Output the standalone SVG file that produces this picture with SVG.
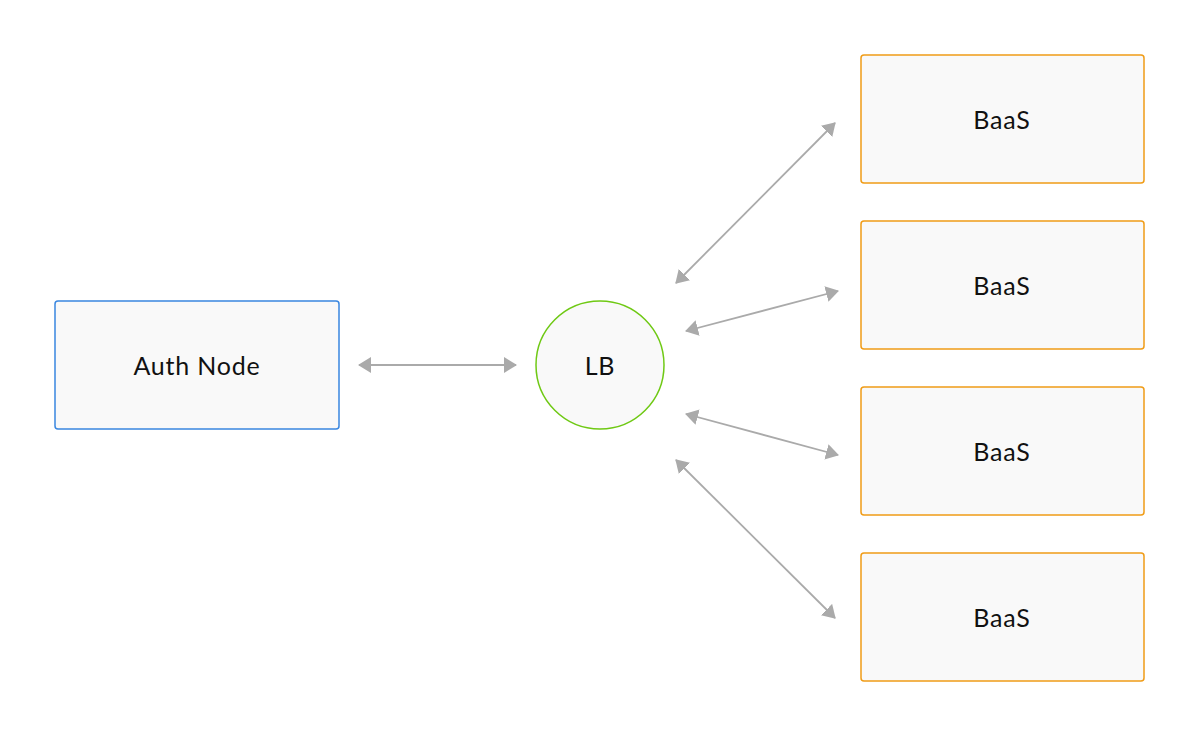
<svg xmlns="http://www.w3.org/2000/svg" width="1200" height="737" viewBox="0 0 1200 737">
<defs>
<style>
.box{fill:#f9f9f9;stroke-width:1.5}
.auth{stroke:#3a87e0}
.baas{stroke:#f09c17}
.lb{fill:#f9f9f9;stroke:#6fc914;stroke-width:1.5}
.lbl{font-family:Lato,"Noto Sans",sans-serif;font-size:25px;letter-spacing:0.8px;fill:#111111;text-anchor:middle;dominant-baseline:central}
.conn{stroke:#aaaaaa;stroke-width:1.8;fill:none;marker-start:url(#ah);marker-end:url(#ah)}
</style>
<marker id="ah" viewBox="0 0 13 16" refX="12" refY="8" markerWidth="13" markerHeight="16" markerUnits="userSpaceOnUse" orient="auto-start-reverse">
<path d="M0,0 L13,8 L0,16 Z" fill="#aaaaaa"/>
</marker>
</defs>
<rect width="1200" height="737" fill="#ffffff"/>
<g id="connectors">
<line class="conn" x1="359" y1="365" x2="516" y2="365"/>
<line class="conn" x1="676" y1="283" x2="835" y2="123"/>
<line class="conn" x1="686" y1="331" x2="838" y2="291"/>
<line class="conn" x1="686" y1="414" x2="838" y2="455"/>
<line class="conn" x1="676" y1="460" x2="835" y2="618"/>
</g>
<g id="auth-node">
<rect class="box auth" x="55" y="301" width="284" height="128" rx="3"/>
<text class="lbl" x="197" y="365">Auth Node</text>
</g>
<g id="lb">
<circle class="lb" cx="600" cy="365" r="64"/>
<text class="lbl" x="600" y="365">LB</text>
</g>
<g id="baas-1">
<rect class="box baas" x="861" y="55" width="283" height="128" rx="3"/>
<text class="lbl" x="1002" y="119">BaaS</text>
</g>
<g id="baas-2">
<rect class="box baas" x="861" y="221" width="283" height="128" rx="3"/>
<text class="lbl" x="1002" y="285">BaaS</text>
</g>
<g id="baas-3">
<rect class="box baas" x="861" y="387" width="283" height="128" rx="3"/>
<text class="lbl" x="1002" y="451">BaaS</text>
</g>
<g id="baas-4">
<rect class="box baas" x="861" y="553" width="283" height="128" rx="3"/>
<text class="lbl" x="1002" y="617">BaaS</text>
</g>
</svg>
